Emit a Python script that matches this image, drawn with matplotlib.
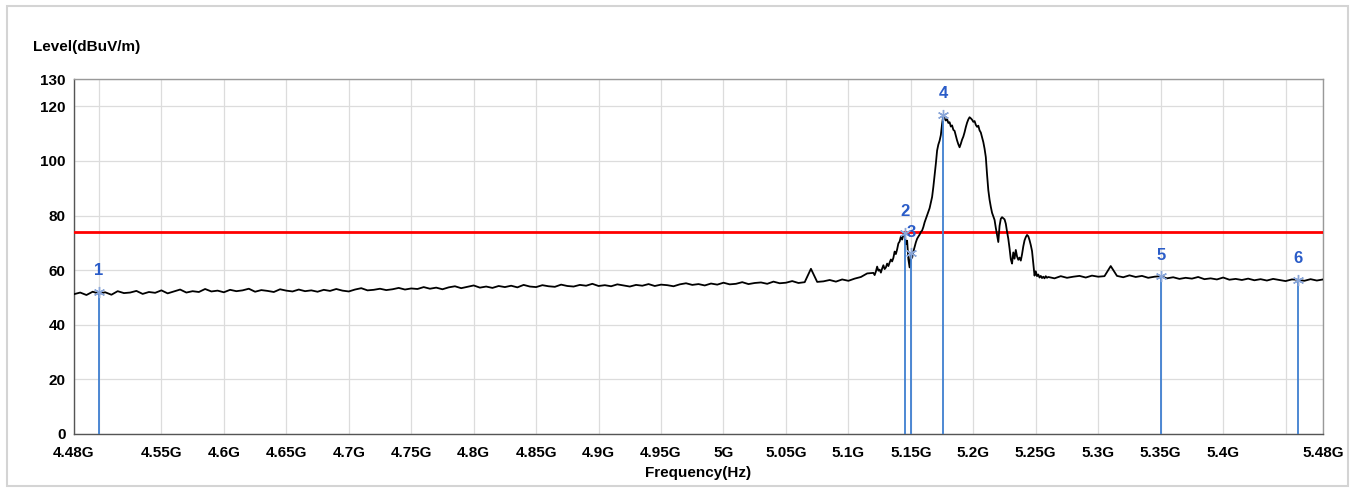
import numpy as np
import matplotlib
matplotlib.use("Agg")
import matplotlib.pyplot as plt
from matplotlib.patches import Rectangle

plt.rcParams["font.family"] = ["Liberation Sans", "DejaVu Sans"]

# trace, low band 4.480 - 5.115 GHz, 5 MHz steps
low_start, low_step = 4.480, 0.005
low_level = [
    51.2, 51.8, 50.9, 52.1, 51.4, 51.9, 51.0, 52.3, 51.6, 51.8,
    52.4, 51.3, 52.0, 51.7, 52.6, 51.5, 52.2, 52.9, 51.8, 52.3,
    52.0, 53.1, 52.2, 52.5, 51.9, 52.8, 52.3, 52.6, 53.2, 52.1,
    52.7, 52.4, 52.0, 53.0, 52.5, 52.2, 52.9, 52.3, 52.6, 52.1,
    52.8, 52.4, 53.1, 52.5, 52.2, 52.9, 53.4, 52.6, 52.8, 53.2,
    52.7, 53.0, 53.5, 52.9, 53.3, 53.1, 53.8, 53.2, 53.6, 53.0,
    53.7, 54.1, 53.4, 53.9, 54.4, 53.6, 54.0, 53.5, 54.2, 53.8,
    54.3, 53.7, 54.6, 54.0, 53.8, 54.5, 54.1, 53.9, 54.7, 54.2,
    54.0, 54.6, 54.3, 55.0, 54.2, 54.5, 54.1, 54.8, 54.4, 54.0,
    54.6, 54.3, 54.9, 54.2, 54.7, 54.5, 54.1, 54.8, 55.2, 54.6,
    54.9, 54.4, 55.1, 54.7, 55.4, 54.8, 55.0, 55.6, 54.9, 55.3,
    55.5, 55.0, 55.8, 55.2, 55.4, 56.0, 55.3, 55.6, 60.5, 55.7,
    55.9, 56.4, 55.8, 56.6, 56.1, 56.9, 57.5, 58.8,
]

# trace, emission 5.120 - 5.259 GHz, 1 MHz steps
mid_start, mid_step = 5.120, 0.001
mid_level = [
    59.0, 58.2, 59.5, 61.3, 59.8, 60.2, 59.1, 60.6, 61.8, 60.4,
    61.0, 62.4, 61.5, 62.8, 63.9, 63.2, 64.5, 66.8, 65.9, 67.6,
    69.8, 70.5, 72.3, 71.2, 73.0, 73.6, 69.5, 70.8, 64.0, 61.0,
    66.2, 64.5, 66.8, 68.5, 70.2, 71.5, 72.3, 73.0, 74.0, 74.5,
    75.8, 77.5, 78.8, 80.2, 81.5, 82.7, 84.8, 86.8, 90.5, 94.6,
    99.0, 103.8, 106.0, 107.4, 109.5, 113.6, 116.8, 115.5, 114.8, 115.3,
    113.9, 114.2, 112.6, 113.0, 111.4, 111.0, 109.2, 107.5, 106.1, 105.0,
    106.3, 107.8, 108.9, 110.5, 112.4, 114.0, 115.2, 116.0, 115.6, 115.1,
    114.3, 114.6, 113.2, 112.5, 112.9, 111.2, 110.4, 108.6, 106.9, 104.5,
    101.4, 95.0, 89.3, 85.8, 83.2, 81.0, 79.7, 78.4, 75.5, 73.0,
    70.3, 76.2, 78.8, 79.4, 79.0, 78.6, 77.0, 74.1, 71.5, 68.0,
    64.0, 62.4, 66.5, 64.2, 67.4, 65.0, 63.8, 64.6, 63.5, 65.8,
    68.7, 70.9, 72.1, 72.9, 72.4, 71.0, 69.2, 67.0, 62.5, 58.0,
    59.6, 57.8, 58.4, 57.3, 57.9, 57.1, 57.6, 57.0, 57.8, 57.2,
]

# trace, high band 5.260 - 5.480 GHz, 5 MHz steps
high_start, high_step = 5.260, 0.005
high_level = [
    57.5, 57.0, 57.8, 57.2, 57.6, 57.9, 57.3, 58.0, 57.6, 57.8,
    61.5, 57.9, 57.4, 58.1, 57.5, 57.9, 57.2, 57.6, 57.8, 57.0,
    57.4, 56.8, 57.2, 56.9, 57.5, 56.7, 57.0, 56.6, 57.3, 56.5,
    56.8, 56.4, 56.9, 56.3, 56.7, 56.2, 56.8, 56.4, 56.0, 56.6,
    56.5, 56.1, 56.7, 56.2, 56.6,
]

marker_freq = [4.500, 5.145, 5.150, 5.176, 5.350, 5.460]
marker_level = [52.0, 73.6, 66.2, 116.8, 57.8, 56.5]
marker_names = ["1", "2", "3", "4", "5", "6"]

limit_level = 74

tick_pos = [4.48, 4.55, 4.60, 4.65, 4.70, 4.75, 4.80, 4.85, 4.90, 4.95,
            5.00, 5.05, 5.10, 5.15, 5.20, 5.25, 5.30, 5.35, 5.40, 5.48]
tick_labels = ["4.48G", "4.55G", "4.6G", "4.65G", "4.7G", "4.75G", "4.8G",
               "4.85G", "4.9G", "4.95G", "5G", "5.05G", "5.1G", "5.15G",
               "5.2G", "5.25G", "5.3G", "5.35G", "5.4G", "5.48G"]
extra_grid = [4.50, 5.45]
y_ticks = [0, 20, 40, 60, 80, 100, 120, 130]

freq = np.concatenate([
    low_start + low_step * np.arange(len(low_level)),
    mid_start + mid_step * np.arange(len(mid_level)),
    high_start + high_step * np.arange(len(high_level)),
])
level = np.array(low_level + mid_level + high_level)

fig = plt.figure(figsize=(13.57, 4.92), dpi=100)
fig.patches.append(Rectangle((0.005, 0.012), 0.988, 0.975, transform=fig.transFigure,
                             fill=False, edgecolor="#d4d4d4", linewidth=1.5))
ax = fig.add_axes([0.0545, 0.1179, 0.9205, 0.7215])

ax.set_xlim(4.48, 5.48)
ax.set_ylim(0, 130)

ax.set_xticks(tick_pos)
ax.set_xticklabels(tick_labels)
ax.set_xticks(extra_grid, minor=True)
ax.set_yticks(y_ticks)
ax.grid(True, which="both", color="#dcdcdc", linewidth=0.9)
ax.set_axisbelow(True)
ax.tick_params(length=0, labelsize=11, which="both")
ax.tick_params(axis="x", pad=9)
ax.tick_params(axis="y", pad=6)
for lab in ax.get_xticklabels() + ax.get_yticklabels():
    lab.set_fontweight("bold")
for side, sp in ax.spines.items():
    sp.set_color("#555555" if side in ("left", "bottom") else "#999999")
    sp.set_linewidth(1.0)

ax.axhline(limit_level, color="#ff0000", linewidth=2, zorder=3)
ax.plot(freq, level, color="black", linewidth=1.3, zorder=4)

for f, lv, name in zip(marker_freq, marker_level, marker_names):
    ax.plot([f, f], [0, lv], color="#3f7fd0", linewidth=1.3, zorder=5)
    ax.plot(f, lv, marker=(6, 2, 0), markersize=8, color="#8aa6d8",
            markeredgewidth=1, zorder=6)
    ax.text(f, lv + 5, name, ha="center", va="bottom", fontsize=12,
            fontweight="bold", color="#2a5cc8", zorder=7)

ax.set_xlabel("Frequency(Hz)", fontsize=11, fontweight="bold", labelpad=4)
fig.text(33 / 1357, 1 - 47 / 492, "Level(dBuV/m)", fontsize=11,
         fontweight="bold", va="center", ha="left")

fig.savefig("out.png", dpi=100)
